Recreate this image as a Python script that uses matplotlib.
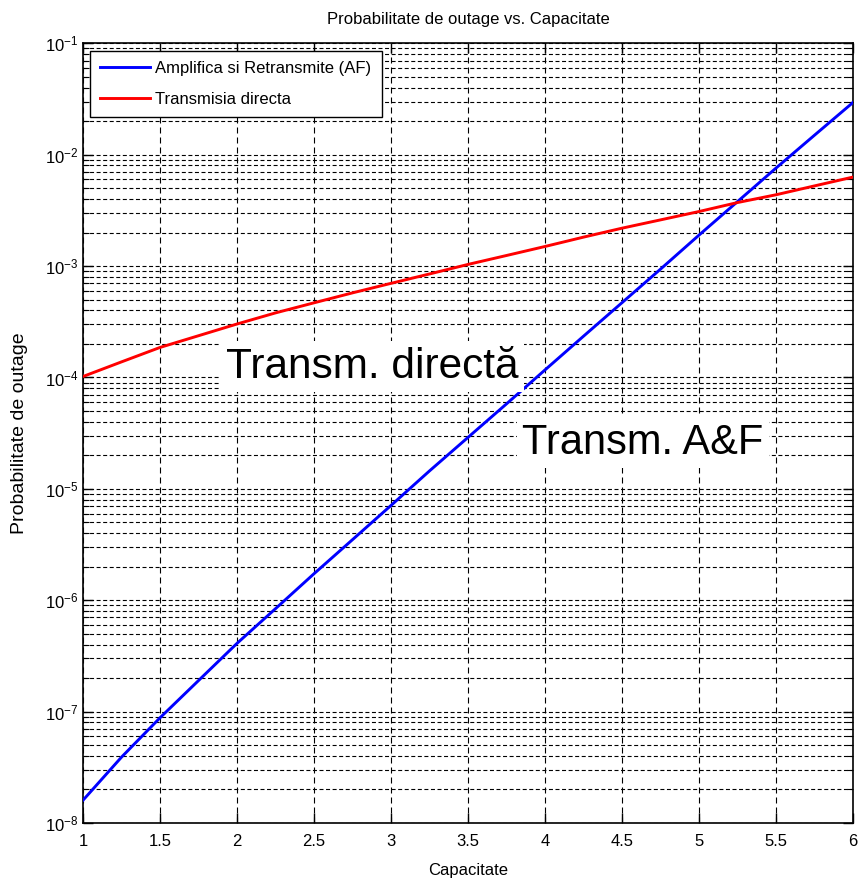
import numpy as np
import matplotlib
matplotlib.use('Agg')
import matplotlib.pyplot as plt
from matplotlib.ticker import FixedLocator, LogFormatterSciNotation, NullFormatter

# data (every 0.25 on the x axis)
capacitate = [1.0, 1.25, 1.5, 1.75, 2.0, 2.25, 2.5, 2.75, 3.0, 3.25, 3.5,
              3.75, 4.0, 4.25, 4.5, 4.75, 5.0, 5.25, 5.5, 5.75, 6.0]
p_af = [1.6e-8, 3.9e-8, 8.8e-8, 1.9e-7, 4.1e-7, 8.4e-7, 1.73e-6, 3.5e-6, 7.1e-6, 1.45e-5, 2.9e-5,
        5.8e-5, 1.17e-4, 2.35e-4, 4.7e-4, 9.4e-4, 1.9e-3, 3.8e-3, 7.6e-3, 1.5e-2, 2.95e-2]
p_direct = [1.02e-4, 1.38e-4, 1.86e-4, 2.37e-4, 3.02e-4, 3.8e-4, 4.68e-4, 5.75e-4, 7.0e-4, 8.5e-4, 1.035e-3,
            1.245e-3, 1.5e-3, 1.82e-3, 2.19e-3, 2.6e-3, 3.09e-3, 3.72e-3, 4.37e-3, 5.25e-3, 6.3e-3]

x_ticks = [1, 1.5, 2, 2.5, 3, 3.5, 4, 4.5, 5, 5.5, 6]
x_tick_labels = ['1', '1.5', '2', '2.5', '3', '3.5', '4', '4.5', '5', '5.5', '6']
y_decades = [1e-8, 1e-7, 1e-6, 1e-5, 1e-4, 1e-3, 1e-2, 1e-1]

label_af = 'Amplifica si Retransmite (AF)'
label_direct = 'Transmisia directa'

sans = ['Liberation Sans', 'DejaVu Sans']
plt.rcParams['font.family'] = sans
plt.rcParams['mathtext.fontset'] = 'custom'
plt.rcParams['mathtext.rm'] = 'Liberation Sans'

# figure ---------------------------------------------------------
fig = plt.figure(figsize=(8.67, 8.84), dpi=100)
ax = fig.add_axes([0.0957, 0.069, 0.8883, 0.882])

ax.plot(capacitate, p_af, color='#0000ff', lw=2.1, label=label_af, zorder=3)
ax.plot(capacitate, p_direct, color='#ff0000', lw=2.1, label=label_direct, zorder=3)

ax.set_yscale('log')
ax.set_xlim(1, 6)
ax.set_ylim(1e-8, 1e-1)
ax.xaxis.set_major_locator(FixedLocator(x_ticks))
ax.set_xticklabels(x_tick_labels)

# only the ticks inside the y range
minor = [d * k for d in y_decades[:-1] for k in range(2, 10)]
ax.yaxis.set_major_locator(FixedLocator(y_decades))
ax.yaxis.set_major_formatter(LogFormatterSciNotation())
ax.yaxis.set_minor_locator(FixedLocator(minor))
ax.yaxis.set_minor_formatter(NullFormatter())

# matlab-like grid
ax.grid(True, which='major', axis='x', color='black', lw=0.8, linestyle=(0, (5.4, 3.6)))
ax.grid(True, which='both', axis='y', color='black', lw=0.8, linestyle=(0, (3.6, 2.3)))
ax.set_axisbelow(True)

ax.tick_params(which='both', direction='in', top=True, right=True, labelsize=12)
ax.tick_params(axis='x', which='major', pad=8)
ax.tick_params(which='major', length=7, width=1)
ax.tick_params(which='minor', length=4, width=0.8)
for s in ax.spines.values():
    s.set_linewidth(1.2)

ax.set_title('Probabilitate de outage vs. Capacitate', fontsize=12, pad=14)
ax.set_xlabel('Capacitate', fontsize=12, labelpad=10)
ax.set_ylabel('Probabilitate de outage', fontsize=14, labelpad=12)

leg = ax.legend(loc='upper left', fontsize=12, fancybox=False, framealpha=1,
                edgecolor='black', handlelength=3.0, handletextpad=0.3,
                labelspacing=0.95, borderpad=0.6, borderaxespad=0.45)
leg.get_frame().set_linewidth(1.0)

box = dict(facecolor='white', edgecolor='none', pad=4)
ax.text(1.93, 1.25e-4, 'Transm. directă', fontsize=30.5,
        va='center', ha='left', bbox=box, zorder=5)
ax.text(3.85, 2.6e-5, 'Transm. A&F', fontsize=30,
        va='center', ha='left', bbox=box, zorder=5)

fig.savefig('out.png', dpi=100)
